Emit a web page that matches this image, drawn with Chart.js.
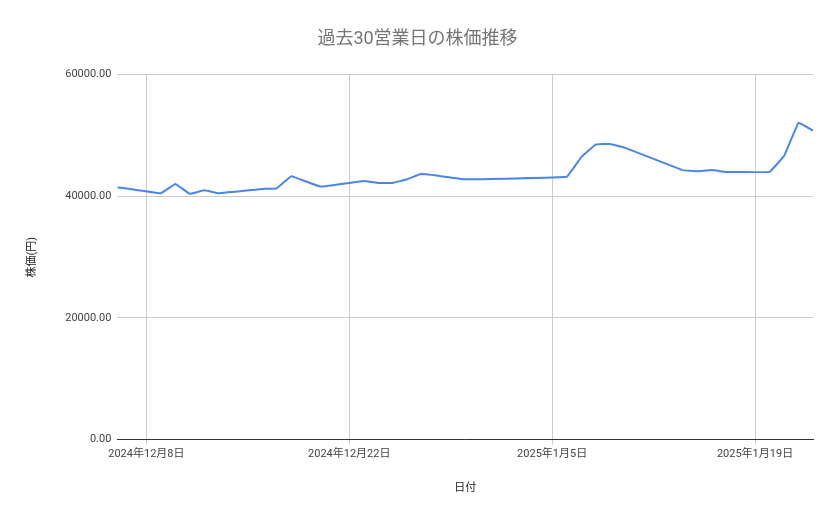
<!DOCTYPE html>
<html><head><meta charset="utf-8">
<script src="https://cdn.jsdelivr.net/npm/chart.js@4"></script>
<style>html,body{margin:0;padding:0;background:#fff}#w{width:839px;height:519px}</style>
</head><body><div id="w"><canvas id="c"></canvas></div>
<script>
// day offsets from 2024-12-06
const days = [0,3,4,5,6,7,10,11,12,14,17,18,19,20,21,24,31,32,33,34,35,39,40,41,42,43,45,46,47,48];
const prices = [41500,40500,42000,40400,41000,40500,41200,41300,43300,41600,42500,42200,42200,42800,43700,42800,43200,46400,48500,48600,48000,44300,44100,44300,44000,44000,44000,46600,52100,50800];
const tickDays = [2,16,30,44];
const tickLabels = ['2024年12月8日','2024年12月22日','2025年1月5日','2025年1月19日'];
const yTicks = [0,20000,40000,60000];
const font = "Roboto, 'Noto Sans CJK JP', sans-serif";
Chart.defaults.font.family = font;
new Chart(document.getElementById('c'), {
  type:'line',
  data:{datasets:[{data:days.map((d,i)=>({x:d,y:prices[i]})),borderColor:'#4a86e8',borderWidth:2,pointRadius:0,tension:0.05}]},
  options:{responsive:true,maintainAspectRatio:false,animation:false,
    layout:{padding:{left:22,right:26,top:15,bottom:20}},
    plugins:{legend:{display:false},tooltip:{enabled:false},
      title:{display:true,text:'過去30営業日の株価推移',color:'#757575',font:{size:18,weight:'normal'},padding:{top:14,bottom:24}}},
    scales:{
      x:{type:'linear',min:0,max:48,
        afterBuildTicks:a=>{a.ticks=tickDays.map(v=>({value:v}));},
        ticks:{color:'#444',font:{size:11},maxRotation:0,autoSkip:false,callback:v=>tickLabels[tickDays.indexOf(v)]},
        grid:{color:'#cccccc',drawTicks:true,tickLength:5},border:{color:'#333'},
        title:{display:true,text:'日付',color:'#222',font:{size:11},padding:{top:18}}},
      y:{min:0,max:60000,
        afterBuildTicks:a=>{a.ticks=yTicks.map(v=>({value:v}));},
        ticks:{color:'#444',font:{size:11},callback:v=>v.toFixed(2),padding:6},
        grid:{color:'#cccccc',drawTicks:false},border:{display:false},
        title:{display:true,text:'株価(円)',color:'#222',font:{size:11},padding:{bottom:20}}}
    }}
});
</script></body></html>
